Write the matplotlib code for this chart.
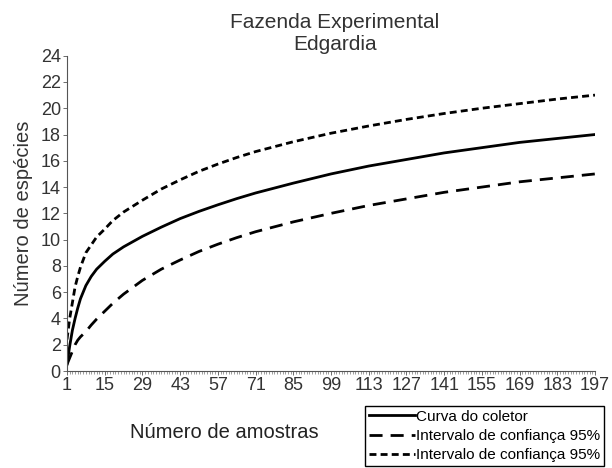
import matplotlib.pyplot as plt
from matplotlib.ticker import MultipleLocator

plt.rcParams['font.family'] = ['Liberation Sans', 'DejaVu Sans']

amostras = [1, 2, 3, 4, 5, 6, 8, 10, 12, 15, 18, 22, 29, 36, 43, 50, 57, 64, 71,
            85, 99, 113, 127, 141, 155, 169, 183, 197]
curva = [0.5, 1.9, 3.1, 4.0, 4.8, 5.5, 6.5, 7.2, 7.75, 8.35, 8.9, 9.45, 10.25, 10.95, 11.6,
         12.15, 12.65, 13.12, 13.55, 14.3, 15.0, 15.6, 16.1, 16.6, 17.0, 17.4, 17.7, 18.0]
ic_sup = [2.4, 4.0, 5.2, 6.4, 7.2, 7.9, 9.0, 9.6, 10.2, 10.8, 11.45, 12.1, 13.0, 13.85, 14.55,
          15.2, 15.75, 16.25, 16.7, 17.45, 18.1, 18.65, 19.15, 19.6, 20.0, 20.35, 20.7, 21.0]
ic_inf = [0.5, 1.0, 1.5, 2.0, 2.35, 2.6, 3.0, 3.5, 3.95, 4.55, 5.15, 5.85, 6.9, 7.75, 8.45,
          9.1, 9.65, 10.15, 10.6, 11.35, 12.0, 12.6, 13.1, 13.6, 14.0, 14.4, 14.7, 15.0]
xticks = list(range(1, 198, 14))
yticks = list(range(0, 25, 2))

fig = plt.figure(figsize=(6.12, 4.68), dpi=100)
ax = fig.add_axes([67/612, 1 - 371/468, (595 - 67)/612, (371 - 55.7)/468])

l1, = ax.plot(amostras, curva, color='black', lw=2.0, label='Curva do coletor')
l2, = ax.plot(amostras, ic_inf, color='black', lw=2.0, dashes=(4.7, 2.9),
              label='Intervalo de confiança 95%')
l3, = ax.plot(amostras, ic_sup, color='black', lw=2.0, dashes=(2.5, 1.5),
              label='Intervalo de confiança 95%')

ax.set_xlim(1, 197)
ax.set_ylim(0, 24)
ax.set_xticks(xticks)
ax.set_yticks(yticks)
ax.xaxis.set_minor_locator(MultipleLocator(1))
for s in ['top', 'right']:
    ax.spines[s].set_visible(False)
for s in ['left', 'bottom']:
    ax.spines[s].set_color('#555555')
    ax.spines[s].set_linewidth(0.8)
ax.tick_params(which='major', length=3, width=0.6, color='#555555', labelsize=13,
               labelcolor='#333333', pad=1.5)
ax.tick_params(which='minor', length=2, width=0.5, color='#777777')

fig.text(335/612, 1 - 13/468, 'Fazenda Experimental\nEdgardia', fontsize=15,
         color='#333333', ha='center', va='top', linespacing=1.2)
fig.text(24/612, 1 - 213/468, 'Número de espécies', fontsize=14.5, color='#333333',
         ha='center', va='center', rotation=90)
fig.text(224/612, 1 - 432/468, 'Número de amostras', fontsize=14.5, color='#222222',
         ha='center', va='center')

leg = fig.legend(handles=[l1, l2, l3], loc='upper left',
                 bbox_to_anchor=(365/612, 1 - 406/468), fontsize=11,
                 frameon=True, fancybox=False, edgecolor='black', framealpha=1,
                 handlelength=3.0, handletextpad=0.1, borderpad=0.25,
                 labelspacing=0.33, borderaxespad=0)
leg.get_frame().set_linewidth(1.0)

fig.savefig('out.png', dpi=100)
